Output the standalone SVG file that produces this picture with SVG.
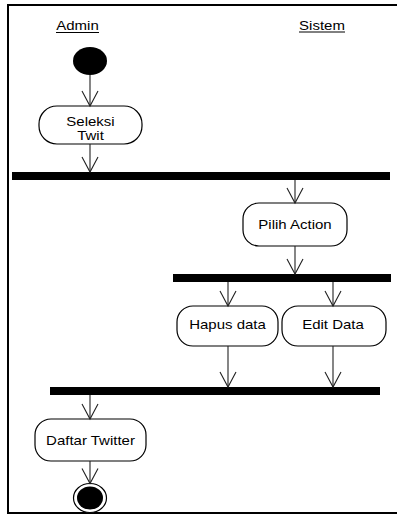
<svg xmlns="http://www.w3.org/2000/svg" width="397" height="515" viewBox="0 0 397 515">
<style>
.t{font-family:"Liberation Sans",Arial,sans-serif;font-size:12.5px;fill:#000;text-anchor:middle}
.box{fill:#fff;stroke:#000;stroke-width:1.2}
.bar{fill:#000}
.c line{stroke:#222;stroke-width:1.1;marker-end:url(#arr)}
.u{stroke:#000;stroke-width:1}
</style>
<defs>
<marker id="arr" markerUnits="userSpaceOnUse" orient="auto" refX="0" refY="0" markerWidth="20" markerHeight="20" overflow="visible">
<path d="M-15,-8 L0,0 L-15,8" fill="none" stroke="#222" stroke-width="1.1"/>
</marker>
</defs>
<rect x="8" y="5" width="395" height="508" fill="#fff" stroke="#000" stroke-width="2"/>
<g id="lane-admin">
<text class="t" transform="translate(77.5,30) scale(1.2,1)">Admin</text>
<line class="u" x1="56" y1="32.5" x2="99" y2="32.5"/>
</g>
<g id="lane-sistem">
<text class="t" transform="translate(322,29.5) scale(1.2,1)">Sistem</text>
<line class="u" x1="299" y1="32" x2="345" y2="32"/>
</g>
<g id="start"><ellipse cx="90" cy="61" rx="17" ry="14" fill="#000"/></g>
<g id="seleksi">
<rect class="box" x="39" y="106" width="103" height="38" rx="18" ry="18"/>
<text class="t" transform="translate(90.5,125.5) scale(1.2,1)">Seleksi</text>
<text class="t" transform="translate(90.5,140) scale(1.2,1)">Twit</text>
</g>
<g id="bar1"><rect class="bar" x="12" y="172" width="378" height="8"/></g>
<g id="pilih">
<rect class="box" x="243" y="203" width="104" height="43" rx="16" ry="16"/>
<text class="t" transform="translate(295,229) scale(1.2,1)">Pilih Action</text>
</g>
<g id="bar2"><rect class="bar" x="173" y="274" width="218" height="8"/></g>
<g id="hapus">
<rect class="box" x="177" y="306" width="101" height="40" rx="16" ry="16"/>
<text class="t" transform="translate(227.5,329) scale(1.2,1)">Hapus data</text>
</g>
<g id="edit">
<rect class="box" x="282" y="306" width="104" height="40" rx="16" ry="16"/>
<text class="t" transform="translate(333,329) scale(1.2,1)">Edit Data</text>
</g>
<g id="bar3"><rect class="bar" x="50" y="387" width="330" height="8"/></g>
<g id="daftar">
<rect class="box" x="35" y="419" width="111" height="42" rx="16" ry="16"/>
<text class="t" transform="translate(90.5,445) scale(1.2,1)">Daftar Twitter</text>
</g>
<g id="end">
<ellipse cx="90" cy="498" rx="16.5" ry="14.5" fill="#fff" stroke="#000" stroke-width="1.2"/>
<ellipse cx="90" cy="498" rx="13" ry="11.5" fill="#000"/>
</g>
<g id="connectors" class="c">
<line x1="90" y1="75" x2="90" y2="106"/>
<line x1="90" y1="144" x2="90" y2="172"/>
<line x1="295" y1="180" x2="295" y2="203"/>
<line x1="295" y1="246" x2="295" y2="274"/>
<line x1="228" y1="282" x2="228" y2="306"/>
<line x1="333" y1="282" x2="333" y2="306"/>
<line x1="228" y1="346" x2="228" y2="387"/>
<line x1="333" y1="346" x2="333" y2="387"/>
<line x1="90" y1="395" x2="90" y2="419"/>
<line x1="90" y1="461" x2="90" y2="483.5"/>
</g>
</svg>
